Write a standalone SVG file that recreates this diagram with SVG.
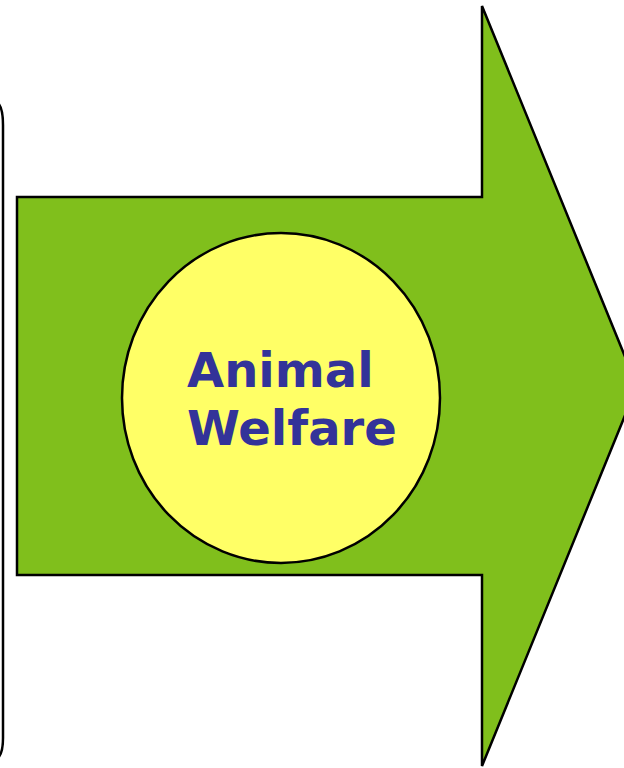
<svg xmlns="http://www.w3.org/2000/svg" width="624" height="768" viewBox="0 0 624 768">
<style>
.ln{stroke:#000;stroke-width:2.5;stroke-linejoin:miter}
.t{font-family:"DejaVu Sans",Verdana,sans-serif;font-weight:bold;font-size:48px;fill:#333399}
</style>
<rect width="624" height="768" fill="#fff"/>
<g id="frame">
<path d="M -2 103 Q 3 108 3 125 L 3 738 Q 3 753 -2 758" fill="none" class="ln"/>
</g>
<g id="arrow">
<path d="M 17 197 L 482 197 L 482 6 L 637 386 L 482 766 L 482 575 L 17 575 Z" fill="#80BF1C" class="ln"/>
</g>
<g id="circle">
<ellipse cx="281" cy="398" rx="159" ry="165" fill="#FFFF66" class="ln"/>
<text class="t" x="187" y="387">Animal</text>
<text class="t" x="187" y="445">Welfare</text>
</g>
</svg>
